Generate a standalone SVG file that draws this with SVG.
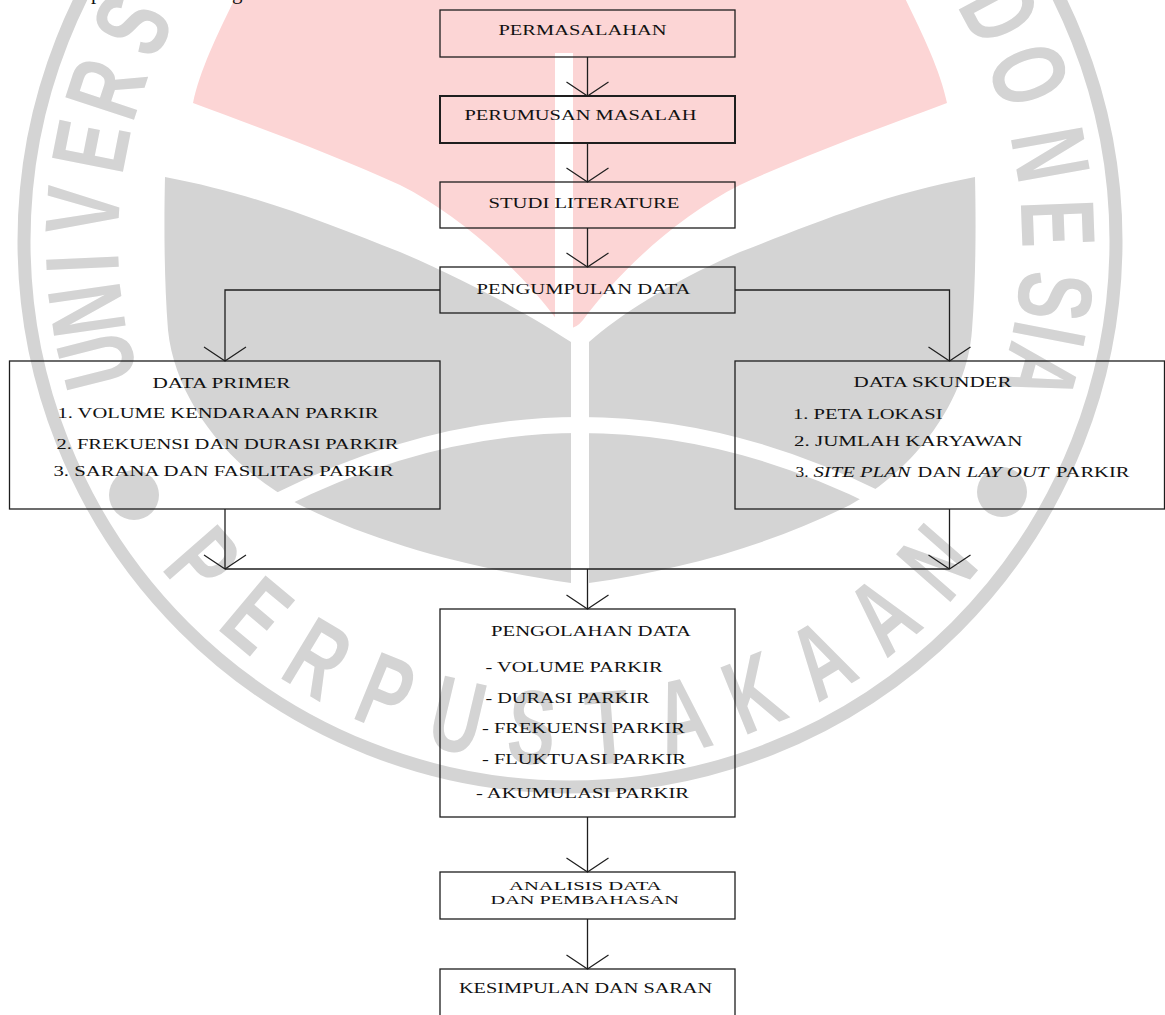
<svg xmlns="http://www.w3.org/2000/svg" width="1165" height="1015" viewBox="0 0 1165 1015">
<defs>
<style>
.g{fill:#d4d4d4}
.wm{font-family:"Liberation Sans",Arial,sans-serif;font-weight:bold;font-size:105px;fill:#d4d4d4;text-anchor:middle}
.box{fill:none;stroke:#1e1e1e;stroke-width:1.3}
.t{font-family:"Liberation Serif","Times New Roman",serif;font-size:14.5px;fill:#111}
.ln{fill:none;stroke:#1e1e1e;stroke-width:1.3}
</style>
<marker id="v" markerUnits="userSpaceOnUse" viewBox="-25 -25 50 50" markerWidth="50" markerHeight="50" refX="0" refY="0" orient="auto"><path d="M-14,-21 L0,0 L-14,21" fill="none" stroke="#1e1e1e" stroke-width="1.2"/></marker>
</defs>
<rect width="1165" height="1015" fill="#ffffff"/>
<g id="watermark">
<path fill="#fcd5d5" d="M240,-12 C222,25 200,68 193,103 C260,128 335,155 400,185 C460,215 520,270 557,320 Q570,336 583,320 C620,270 680,215 740,185 C805,155 880,128 947,103 C940,68 918,25 900,-12 Z"/>
<rect x="555" y="53" width="18" height="290" fill="#ffffff"/>
<path class="g" d="M165,177 C260,195 330,225 400,252 C470,282 530,315 571,342 L571,583 C480,570 380,545 300,505 C230,470 175,400 168,330 C164,280 164,220 165,177 Z"/>
<path class="g" d="M975,177 C880,195 810,225 740,252 C670,282 620,315 589,342 L589,583 C680,570 770,545 850,505 C915,470 967,400 972,330 C976,280 976,220 975,177 Z"/>
<path d="M280,500 Q580,350 880,500" fill="none" stroke="#ffffff" stroke-width="16"/>
<circle cx="570" cy="241" r="546" fill="none" stroke="#d4d4d4" stroke-width="13"/>
<circle class="g" cx="134" cy="495" r="25"/>
<circle class="g" cx="1002" cy="492" r="25"/>
<text class="wm" transform="rotate(-104.2 570 241) translate(570 -211) scale(0.68 1)">U</text>
<text class="wm" transform="rotate(-98.1 570 241) translate(570 -211) scale(0.68 1)">N</text>
<text class="wm" transform="rotate(-92.6 570 241) translate(570 -211) scale(0.68 1)">I</text>
<text class="wm" transform="rotate(-86.4 570 241) translate(570 -211) scale(0.68 1)">V</text>
<text class="wm" transform="rotate(-78.8 570 241) translate(570 -211) scale(0.68 1)">E</text>
<text class="wm" transform="rotate(-71.8 570 241) translate(570 -211) scale(0.68 1)">R</text>
<text class="wm" transform="rotate(-63.7 570 241) translate(570 -211) scale(0.68 1)">S</text>
<text class="wm" transform="rotate(61.9 570 241) translate(570 -211) scale(0.68 1)">D</text>
<text class="wm" transform="rotate(70.1 570 241) translate(570 -211) scale(0.68 1)">O</text>
<text class="wm" transform="rotate(79.8 570 241) translate(570 -211) scale(0.68 1)">N</text>
<text class="wm" transform="rotate(87.9 570 241) translate(570 -211) scale(0.68 1)">E</text>
<text class="wm" transform="rotate(96.5 570 241) translate(570 -211) scale(0.68 1)">S</text>
<text class="wm" transform="rotate(101 570 241) translate(570 -211) scale(0.68 1)">I</text>
<text class="wm" transform="rotate(105.7 570 241) translate(570 -211) scale(0.68 1)">A</text>
<text class="wm" transform="rotate(48.8 570 241) translate(570 765) scale(0.68 1)">P</text>
<text class="wm" transform="rotate(39.9 570 241) translate(570 765) scale(0.68 1)">E</text>
<text class="wm" transform="rotate(31.1 570 241) translate(570 765) scale(0.68 1)">R</text>
<text class="wm" transform="rotate(22.2 570 241) translate(570 765) scale(0.68 1)">P</text>
<text class="wm" transform="rotate(13.3 570 241) translate(570 765) scale(0.68 1)">U</text>
<text class="wm" transform="rotate(4.5 570 241) translate(570 765) scale(0.68 1)">S</text>
<text class="wm" transform="rotate(-4.4 570 241) translate(570 765) scale(0.68 1)">T</text>
<text class="wm" transform="rotate(-13.3 570 241) translate(570 765) scale(0.68 1)">A</text>
<text class="wm" transform="rotate(-22.1 570 241) translate(570 765) scale(0.68 1)">K</text>
<text class="wm" transform="rotate(-31 570 241) translate(570 765) scale(0.68 1)">A</text>
<text class="wm" transform="rotate(-39.9 570 241) translate(570 765) scale(0.68 1)">A</text>
<text class="wm" transform="rotate(-48.8 570 241) translate(570 765) scale(0.68 1)">N</text>
</g>
<g id="page-text">
<text class="t" x="91" y="-1.5" style="font-size:21px">p</text>
<text class="t" x="232" y="-1.5" style="font-size:21px">g</text>
</g>
<g id="connectors" class="ln">
<path d="M587.5,57 V96" marker-end="url(#v)"/>
<path d="M587.5,143 V182" marker-end="url(#v)"/>
<path d="M587.5,228 V267" marker-end="url(#v)"/>
<path d="M440,290 H225 V361" marker-end="url(#v)"/>
<path d="M735,290 H949.5 V361" marker-end="url(#v)"/>
<path d="M225,509 V569" marker-end="url(#v)"/>
<path d="M949.5,509 V569" marker-end="url(#v)"/>
<path d="M225,569 H949.5"/>
<path d="M587.5,569 V609" marker-end="url(#v)"/>
<path d="M587.5,817 V872" marker-end="url(#v)"/>
<path d="M587.5,919 V969" marker-end="url(#v)"/>
</g>
<g id="n1">
<rect class="box" x="440" y="10" width="295" height="47"/>
<text class="t" x="498.5" y="35" textLength="168" lengthAdjust="spacingAndGlyphs">PERMASALAHAN</text>
</g>
<g id="n2">
<rect class="box" x="440" y="96" width="295" height="47" style="stroke-width:2"/>
<text class="t" x="464.5" y="119.5" textLength="232" lengthAdjust="spacingAndGlyphs">PERUMUSAN MASALAH</text>
</g>
<g id="n3">
<rect class="box" x="440" y="182" width="295" height="46"/>
<text class="t" x="488.5" y="207.5" textLength="191" lengthAdjust="spacingAndGlyphs">STUDI LITERATURE</text>
</g>
<g id="n4">
<rect class="box" x="440" y="267" width="295" height="46"/>
<text class="t" x="476.5" y="293.5" textLength="214" lengthAdjust="spacingAndGlyphs">PENGUMPULAN DATA</text>
</g>
<g id="n5">
<rect class="box" x="9.5" y="361" width="430.5" height="148"/>
<text class="t" x="152.5" y="387.5" textLength="138" lengthAdjust="spacingAndGlyphs">DATA PRIMER</text>
<text class="t" x="57.5" y="417.5" textLength="321" lengthAdjust="spacingAndGlyphs">1. VOLUME KENDARAAN PARKIR</text>
<text class="t" x="56.5" y="448.5" textLength="342" lengthAdjust="spacingAndGlyphs">2. FREKUENSI DAN DURASI PARKIR</text>
<text class="t" x="53.5" y="476" textLength="340" lengthAdjust="spacingAndGlyphs">3. SARANA DAN FASILITAS PARKIR</text>
</g>
<g id="n6">
<rect class="box" x="735" y="361" width="429.5" height="148"/>
<text class="t" x="853.5" y="387" textLength="158" lengthAdjust="spacingAndGlyphs">DATA SKUNDER</text>
<text class="t" x="793" y="418.5" textLength="149.5" lengthAdjust="spacingAndGlyphs">1. PETA LOKASI</text>
<text class="t" x="794" y="446" textLength="228.5" lengthAdjust="spacingAndGlyphs">2. JUMLAH KARYAWAN</text>
<text class="t" y="477"><tspan x="795.5" textLength="13" lengthAdjust="spacingAndGlyphs">3.</tspan><tspan x="813.5" font-style="italic" textLength="97" lengthAdjust="spacingAndGlyphs">SITE PLAN</tspan><tspan x="917.5" textLength="44" lengthAdjust="spacingAndGlyphs">DAN</tspan><tspan x="966.5" font-style="italic" textLength="82" lengthAdjust="spacingAndGlyphs">LAY OUT</tspan><tspan x="1056" textLength="73.5" lengthAdjust="spacingAndGlyphs">PARKIR</tspan></text>
</g>
<g id="n7">
<rect class="box" x="440" y="609" width="295" height="208"/>
<text class="t" x="491" y="636" textLength="200" lengthAdjust="spacingAndGlyphs">PENGOLAHAN DATA</text>
<text class="t" x="485.5" y="672" textLength="177" lengthAdjust="spacingAndGlyphs">- VOLUME PARKIR</text>
<text class="t" x="485.5" y="703" textLength="164" lengthAdjust="spacingAndGlyphs">- DURASI PARKIR</text>
<text class="t" x="482" y="733" textLength="203" lengthAdjust="spacingAndGlyphs">- FREKUENSI PARKIR</text>
<text class="t" x="482" y="763.5" textLength="204" lengthAdjust="spacingAndGlyphs">- FLUKTUASI PARKIR</text>
<text class="t" x="476" y="798" textLength="213" lengthAdjust="spacingAndGlyphs">- AKUMULASI PARKIR</text>
</g>
<g id="n8">
<rect class="box" x="440" y="872" width="295" height="47"/>
<text class="t" x="509" y="890" textLength="152.5" lengthAdjust="spacingAndGlyphs" style="font-size:13.5px">ANALISIS DATA</text>
<text class="t" x="490.5" y="903.5" textLength="188.5" lengthAdjust="spacingAndGlyphs" style="font-size:13.5px">DAN PEMBAHASAN</text>
</g>
<g id="n9">
<rect class="box" x="440" y="969" width="295" height="52"/>
<text class="t" x="459" y="993" textLength="253" lengthAdjust="spacingAndGlyphs">KESIMPULAN DAN SARAN</text>
</g>
</svg>
